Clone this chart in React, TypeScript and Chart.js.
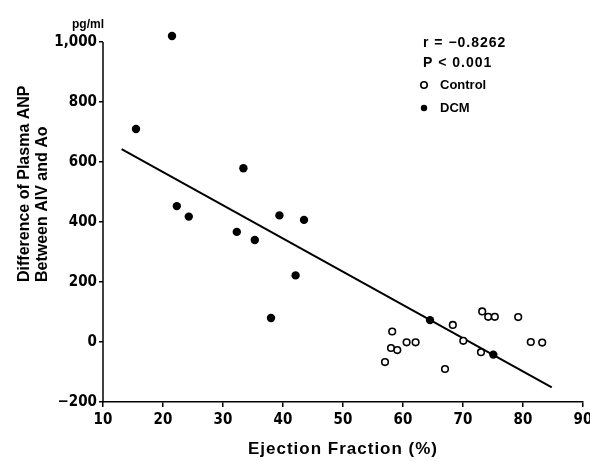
import { useEffect, useRef } from "react";
import { Chart, registerables } from "chart.js";
Chart.register(...registerables);

const controlEF = [58.2, 58.0, 59.05, 57.0, 60.6, 62.1, 67.0, 68.3, 70.05, 73.0, 73.2, 74.2, 75.3, 79.2, 81.3, 83.2];
const controlANP = [35, -20, -27, -67, -1, -1, -90, 57, 4, -34, 102, 84, 84, 83, 0, -2];
const dcmEF = [21.5, 15.5, 33.4, 22.3, 24.3, 32.3, 35.3, 39.4, 43.5, 42.1, 38.0, 64.5, 75.05];
const dcmANP = [1020, 710, 579, 453, 418, 367, 340, 422, 407, 222, 80, 73, -42];
const lineEF = [13.1, 84.8];
const lineANP = [643, -151];
const xTicks = [10, 20, 30, 40, 50, 60, 70, 80, 90];
const yTicks = [-200, 0, 200, 400, 600, 800, 1000];
const yTickLabels = ["\u2212200", "0", "200", "400", "600", "800", "1,000"];
const statLines = ["r = \u22120.8262", "P < 0.001"];
const yTitleLines = ["Difference of Plasma ANP", "Between AIV and Ao"];
const xTitle = "Ejection Fraction (%)";
const yUnit = "pg/ml";

const SANS = "'Liberation Sans', Arial, Helvetica, sans-serif";
const NARROW = "'Liberation Sans Narrow', 'DejaVu Sans Condensed', 'Liberation Sans', sans-serif";

export default function App() {
  const ref = useRef<HTMLCanvasElement>(null);
  useEffect(() => {
    document.body.style.margin = "0";
    const axisPlugin = {
      id: "yAxisLine",
      beforeDatasetsDraw(chart: any) {
        const ctx = chart.ctx as CanvasRenderingContext2D;
        const y = chart.scales.y;
        const x0 = chart.chartArea.left;
        ctx.save();
        ctx.strokeStyle = "#000";
        ctx.lineWidth = 1.5;
        ctx.beginPath();
        ctx.moveTo(x0, y.getPixelForValue(yTicks[0]) + 0.75);
        ctx.lineTo(x0, y.getPixelForValue(yTicks[yTicks.length - 1]));
        ctx.stroke();
        ctx.restore();
      },
    };
    const textPlugin = {
      id: "texts",
      afterDraw(chart: any) {
        const ctx = chart.ctx as CanvasRenderingContext2D;
        ctx.save();
        ctx.fillStyle = "#000";
        ctx.font = `bold 12px ${SANS}`;
        ctx.textAlign = "center";
        ctx.textBaseline = "middle";
        ctx.fillText(yUnit, 88, 25);
        ctx.textAlign = "left";
        ctx.font = `bold 14px ${SANS}`;
        (ctx as any).letterSpacing = "1px";
        ctx.fillText(statLines[0], 423, 43);
        ctx.fillText(statLines[1], 423, 63);
        (ctx as any).letterSpacing = "0px";
        ctx.font = `bold 13px ${SANS}`;
        const ds = chart.data.datasets;
        const ly = [85, 108];
        [0, 1].forEach((i) => {
          ctx.beginPath();
          ctx.arc(424, ly[i], 3.2, 0, Math.PI * 2);
          if (i === 0) {
            ctx.lineWidth = 1.6;
            ctx.strokeStyle = "#000";
            ctx.stroke();
          } else {
            ctx.fill();
          }
          ctx.fillText(ds[i].label, 440, ly[i]);
        });
        ctx.font = `bold 16px ${SANS}`;
        ctx.textAlign = "left";
        ctx.textBaseline = "middle";
        const xs = [25, 43];
        yTitleLines.forEach((t, i) => {
          ctx.save();
          ctx.translate(xs[i], 282);
          ctx.rotate(-Math.PI / 2);
          ctx.fillText(t, 0, 0);
          ctx.restore();
        });
        ctx.font = `bold 17px ${SANS}`;
        ctx.textAlign = "center";
        (ctx as any).letterSpacing = "1px";
        ctx.fillText(xTitle, 343, 449);
        (ctx as any).letterSpacing = "0px";
        ctx.restore();
      },
    };
    const chart = new Chart(ref.current!, {
      type: "scatter",
      data: {
        datasets: [
          {
            label: "Control",
            data: controlEF.map((x, i) => ({ x, y: controlANP[i] })),
            pointRadius: 3.3,
            pointBorderWidth: 1.6,
            borderColor: "#000",
            backgroundColor: "#fff",
            order: 1,
            clip: false,
          },
          {
            label: "DCM",
            data: dcmEF.map((x, i) => ({ x, y: dcmANP[i] })),
            pointRadius: 4.2,
            pointBorderWidth: 0,
            borderColor: "#000",
            backgroundColor: "#000",
            order: 1,
            clip: false,
          },
          {
            type: "line",
            label: "Regression",
            data: lineEF.map((x, i) => ({ x, y: lineANP[i] })),
            borderColor: "#000",
            borderWidth: 2,
            pointRadius: 0,
            fill: false,
            order: 3,
          } as any,
        ],
      },
      options: {
        responsive: false,
        animation: false,
        layout: { padding: { top: 30, right: 7, left: 0, bottom: 0 } },
        plugins: { legend: { display: false }, tooltip: { enabled: false } },
        scales: {
          x: {
            type: "linear",
            min: 10,
            max: 90,
            afterBuildTicks: (s: any) => {
              s.ticks = xTicks.map((v) => ({ value: v }));
            },
            afterFit: (s: any) => {
              s.height = 60;
              s.paddingLeft = 0;
              s.paddingRight = 0;
            },
            ticks: {
              color: "#000",
              font: { family: NARROW, size: 15, weight: "bold" },
              padding: 4,
              maxRotation: 0,
            },
            grid: { drawOnChartArea: false, tickLength: 5, tickColor: "#000", lineWidth: 1.5 },
            border: { color: "#000", width: 1.5 },
            title: { display: false },
          },
          y: {
            type: "linear",
            min: -200,
            max: 1040,
            afterBuildTicks: (s: any) => {
              s.ticks = yTicks.map((v) => ({ value: v }));
            },
            afterFit: (s: any) => {
              s.width = 103;
              s.paddingTop = 0;
              s.paddingBottom = 0;
            },
            ticks: {
              color: "#000",
              font: { family: NARROW, size: 15, weight: "bold" },
              padding: 2,
              callback: (v: any) => yTickLabels[yTicks.indexOf(Number(v))],
            },
            grid: { drawOnChartArea: false, tickLength: 4, tickColor: "#000", lineWidth: 1.5 },
            border: { display: false },
          },
        },
      },
      plugins: [axisPlugin, textPlugin],
    });
    return () => chart.destroy();
  }, []);
  return (
    <div style={{ position: "absolute", left: 0, top: 0, width: 590, height: 462 }}>
      <canvas ref={ref} width={590} height={462} style={{ width: 590, height: 462 }} />
    </div>
  );
}
